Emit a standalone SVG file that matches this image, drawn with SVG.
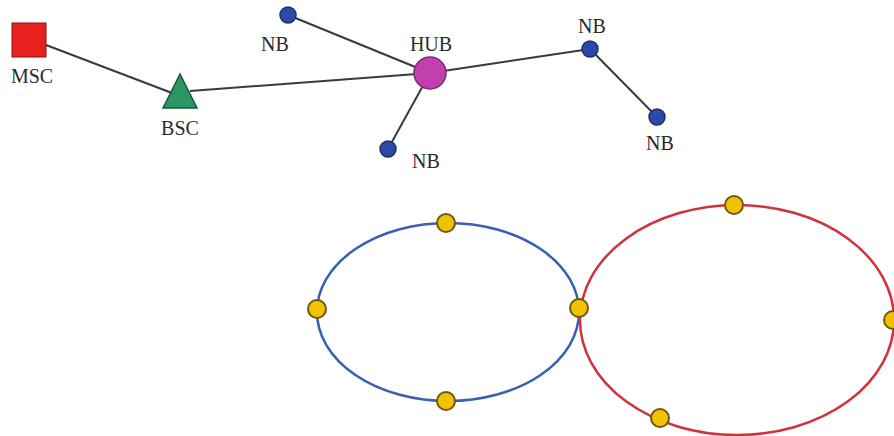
<svg xmlns="http://www.w3.org/2000/svg" width="894" height="436" viewBox="0 0 894 436">
<style>
.lbl{font-family:"Liberation Serif","Times New Roman",serif;font-size:20px;fill:#2a2a2a;text-anchor:middle}
.ln{stroke:#3a3a3a;stroke-width:2;fill:none}
.nb{fill:#2b4aa8;stroke:#1c2f70;stroke-width:1.5}
.yc{fill:#f2c200;stroke:#6b5a10;stroke-width:2}
</style>
<rect width="894" height="436" fill="#ffffff"/>
<g id="connectors">
<line class="ln" x1="46" y1="45" x2="172" y2="93"/>
<line class="ln" x1="190" y1="91" x2="430" y2="73"/>
<line class="ln" x1="288" y1="15" x2="430" y2="73"/>
<line class="ln" x1="388" y1="149" x2="430" y2="73"/>
<line class="ln" x1="430" y1="73" x2="590" y2="49"/>
<line class="ln" x1="590" y1="49" x2="657" y2="117"/>
</g>
<g id="rings">
<ellipse id="ring-blue" cx="448" cy="312" rx="131" ry="89" fill="none" stroke="#3a5fb0" stroke-width="2.5"/>
<ellipse id="ring-red" cx="737" cy="320" rx="157" ry="115" fill="none" stroke="#d2323c" stroke-width="2.5"/>
</g>
<g id="msc"><rect x="12" y="23" width="34" height="34" fill="#e8201e" stroke="#8a1010" stroke-width="1"/><text class="lbl" x="32" y="83">MSC</text></g>
<g id="bsc"><polygon points="180,74 163,108 197,108" fill="#2a9660" stroke="#1a5a3a" stroke-width="1.5"/><text class="lbl" x="180" y="135">BSC</text></g>
<g id="hub"><circle cx="430" cy="73" r="16" fill="#c23fae" stroke="#7a2a6a" stroke-width="1.5"/><text class="lbl" x="431" y="51">HUB</text></g>
<g id="nb1"><circle class="nb" cx="288" cy="15" r="8"/><text class="lbl" x="275" y="51">NB</text></g>
<g id="nb2"><circle class="nb" cx="388" cy="149" r="8"/><text class="lbl" x="426" y="168">NB</text></g>
<g id="nb3"><circle class="nb" cx="590" cy="49" r="8"/><text class="lbl" x="592" y="33">NB</text></g>
<g id="nb4"><circle class="nb" cx="657" cy="117" r="8"/><text class="lbl" x="660" y="150">NB</text></g>
<g id="ring-nodes">
<circle class="yc" cx="446" cy="223" r="9"/>
<circle class="yc" cx="317" cy="309" r="9"/>
<circle class="yc" cx="446" cy="401" r="9"/>
<circle class="yc" cx="579" cy="308" r="9"/>
<circle class="yc" cx="734" cy="205" r="9"/>
<circle class="yc" cx="893" cy="320" r="9"/>
<circle class="yc" cx="660" cy="418" r="9"/>
</g>
</svg>
